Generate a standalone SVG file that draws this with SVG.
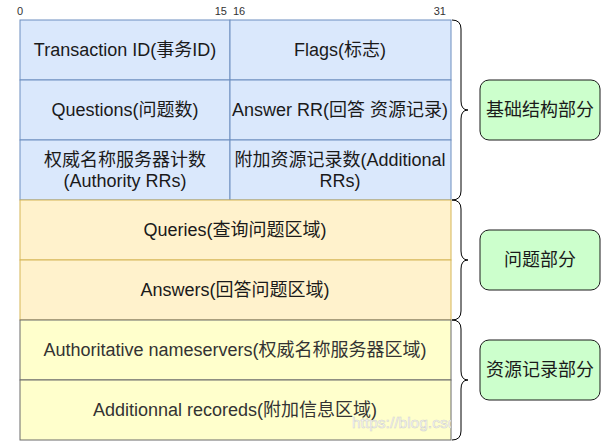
<svg xmlns="http://www.w3.org/2000/svg" width="601" height="441" viewBox="0 0 601 441">
<defs>
<style>
.t{font-family:"Liberation Sans","Noto Sans CJK SC",sans-serif;font-size:18px;fill:#1a1a1a;text-anchor:middle;dominant-baseline:central}
.n{font-family:"Liberation Sans",sans-serif;font-size:11px;fill:#333}
.blue{fill:#dae8fc;stroke:#6c8ebf;stroke-width:1}
.orange{fill:#fff2cc;stroke:#d6b656;stroke-width:1}
.yellow{fill:#ffffcc;stroke:#6b6b6b;stroke-width:1}
.green{fill:#ccffcc;stroke:#1a1a1a;stroke-width:1}
.brace{fill:none;stroke:#000;stroke-width:1}
</style>
<clipPath id="wm"><rect x="0" y="380" width="451" height="61"/></clipPath>
</defs>
<rect width="601" height="441" fill="#fff"/>
<g id="bits">
<text class="n" x="20" y="15" text-anchor="middle">0</text>
<text class="n" x="227" y="15" text-anchor="end">15</text>
<text class="n" x="233" y="15">16</text>
<text class="n" x="446" y="15" text-anchor="end">31</text>
</g>
<g id="transaction-id"><rect class="blue" x="20" y="20" width="210" height="60"/><text class="t" x="125" y="50">Transaction ID(事务ID)</text></g>
<g id="flags"><rect class="blue" x="230" y="20" width="221" height="60"/><text class="t" x="340" y="50">Flags(标志)</text></g>
<g id="questions"><rect class="blue" x="20" y="80" width="210" height="60"/><text class="t" x="125" y="110">Questions(问题数)</text></g>
<g id="answer-rr"><rect class="blue" x="230" y="80" width="221" height="60"/><text class="t" x="340" y="110">Answer RR(回答 资源记录)</text></g>
<g id="authority-rrs"><rect class="blue" x="20" y="140" width="210" height="60"/><text class="t" x="125" y="160">权威名称服务器计数</text><text class="t" x="125" y="181">(Authority RRs)</text></g>
<g id="additional-rrs"><rect class="blue" x="230" y="140" width="221" height="60"/><text class="t" x="340" y="160">附加资源记录数(Additional</text><text class="t" x="340" y="181">RRs)</text></g>
<g id="queries"><rect class="orange" x="20" y="200" width="431" height="60"/><text class="t" x="235" y="230">Queries(查询问题区域)</text></g>
<g id="answers"><rect class="orange" x="20" y="260" width="431" height="60"/><text class="t" x="235" y="290">Answers(回答问题区域)</text></g>
<g id="authoritative"><rect class="yellow" x="20" y="320" width="431" height="60"/><text class="t" x="235" y="350" style="fill:#333">Authoritative nameservers(权威名称服务器区域)</text></g>
<g id="additional"><rect class="yellow" x="20" y="380" width="431" height="60"/><text class="t" x="235" y="410" style="fill:#333">Additionnal recoreds(附加信息区域)</text></g>
<g id="connectors">
<path class="brace" d="M452,20 Q461,20 461,29 L461,101 Q461,110 468,110 Q461,110 461,119 L461,191 Q461,200 452,200"/>
<path class="brace" d="M452,200 Q461,200 461,209 L461,251 Q461,260 468,260 Q461,260 461,269 L461,311 Q461,320 452,320"/>
<path class="brace" d="M452,320 Q461,320 461,329 L461,371 Q461,380 468,380 Q461,380 461,389 L461,431 Q461,440 452,440"/>
</g>
<g id="basic"><rect class="green" x="480" y="80" width="120" height="60" rx="9"/><text class="t" x="540" y="110">基础结构部分</text></g>
<g id="question-part"><rect class="green" x="480" y="230" width="120" height="60" rx="9"/><text class="t" x="540" y="260">问题部分</text></g>
<g id="resource-part"><rect class="green" x="480" y="340" width="120" height="60" rx="9"/><text class="t" x="540" y="370">资源记录部分</text></g>
<g id="watermark" clip-path="url(#wm)"><text x="352" y="428" style="font-family:'Liberation Sans',sans-serif;font-size:15.5px;fill:#ffffff;stroke:#d0d0d0;stroke-width:0.6;opacity:0.9">https://blog.csdn.net</text></g>
</svg>
